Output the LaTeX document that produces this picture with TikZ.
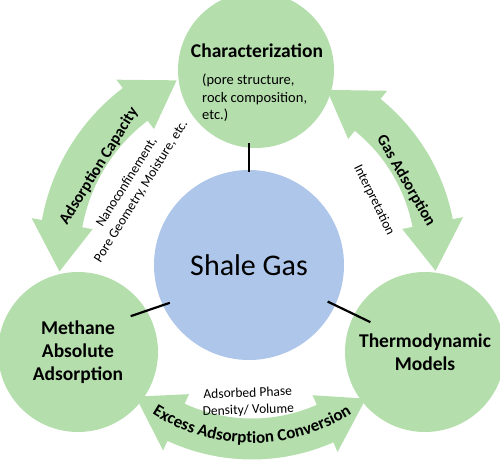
\documentclass[tikz,border=0pt]{standalone}
\usepackage{fontspec}
\setmainfont{Carlito}
\usetikzlibrary{calc,decorations.text}
\definecolor{leaf}{RGB}{180,222,172}
\definecolor{sky}{RGB}{173,198,234}
\tikzset{
  disc/.style={circle,fill=leaf,inner sep=0pt,align=center},
  link/.style={line width=2.2pt},
  bigtitle/.style={font=\bfseries\fontsize{19.5}{23}\selectfont,align=center},
  armtitle/.style={font=\bfseries\fontsize{16}{19}\selectfont},
  armnote/.style={font=\fontsize{13.5}{17}\selectfont,align=center}
}
% curved double arrow: centre, radius, start angle, end angle
\newcommand{\bendarrow}[4]{%
  \pgfmathsetmacro{\hd}{48/#2*180/pi}
  \fill[leaf] ($(#1)+(#3:#2)$) -- ($(#1)+({#3+\hd}:{#2+31})$) -- ($(#1)+({#3+\hd}:{#2+20.5})$)
    arc[start angle={#3+\hd},end angle={#4-\hd},radius={#2+20.5}]
    -- ($(#1)+({#4-\hd}:{#2+31})$) -- ($(#1)+(#4:#2)$) -- ($(#1)+({#4-\hd}:{#2-31})$)
    -- ($(#1)+({#4-\hd}:{#2-20.5})$)
    arc[start angle={#4-\hd},end angle={#3+\hd},radius={#2-20.5}]
    -- ($(#1)+({#3+\hd}:{#2-31})$) -- cycle;
}
\begin{document}
\begin{tikzpicture}[x=1pt,y=1pt]
\useasboundingbox (0,0) rectangle (500,471);
\coordinate (ring) at (252,213);

% arrows round the ring
\bendarrow{ring}{193}{113}{184}
\bendarrow{ring}{184}{-4}{66}
\bendarrow{ring}{181}{230}{309}

% circles
\node[disc,minimum size=156pt] (tc) at (256,401) {};
\node[disc,fill=sky,minimum size=190pt,font=\fontsize{30}{36}\selectfont] (cc) at (249,206) {Shale Gas};
\node[disc,bigtitle,minimum size=160pt] (lc) at (78,119) {Methane\\Absolute\\Adsorption};
\node[disc,bigtitle,minimum size=160pt] (rc) at (425,119) {Thermodynamic\\Models};

% links to the centre
\draw[link,shorten <=-2pt,shorten >=-5pt] (cc.north) -- (cc.north |- tc.south);
\draw[link,shorten <=-7.5pt,shorten >=-17pt] (cc.205) -- (lc.31);
\draw[link,shorten <=-8.5pt,shorten >=-18pt] (cc.335) -- (rc.152);

% texts
\node[bigtitle,anchor=base] (tchead) at (257,413) {Characterization};
\node[font=\fontsize{14.5}{17.5}\selectfont,align=left,anchor=west,inner sep=0pt] (tcbody) at (202,373) {(pore structure,\\rock composition,\\etc.)};
\node[armtitle,rotate=58] (leftarm) at (99,305) {Adsorption Capacity};
\node[armnote,rotate=58] (leftnote) at (134,284) {Nanoconfinement,\\Pore Geometry, Moisture, etc.};
\node[armtitle,rotate=-60] (rightarm) at (406,290) {Gas Adsorption};
\node[armnote,rotate=-64] (rightnote) at (374,271) {Interpretation};
\node[armnote,rotate=2] (lownote) at (248,69) {Adsorbed Phase\\Density/ Volume};
\path[decorate,decoration={text along path,text align=center,
  text={|\bfseries\fontsize{17}{20}\selectfont|Excess Adsorption Conversion}}]
  ($(ring)+(225:185)$) arc[start angle=225,end angle=315,radius=185];
\end{tikzpicture}
\end{document}
